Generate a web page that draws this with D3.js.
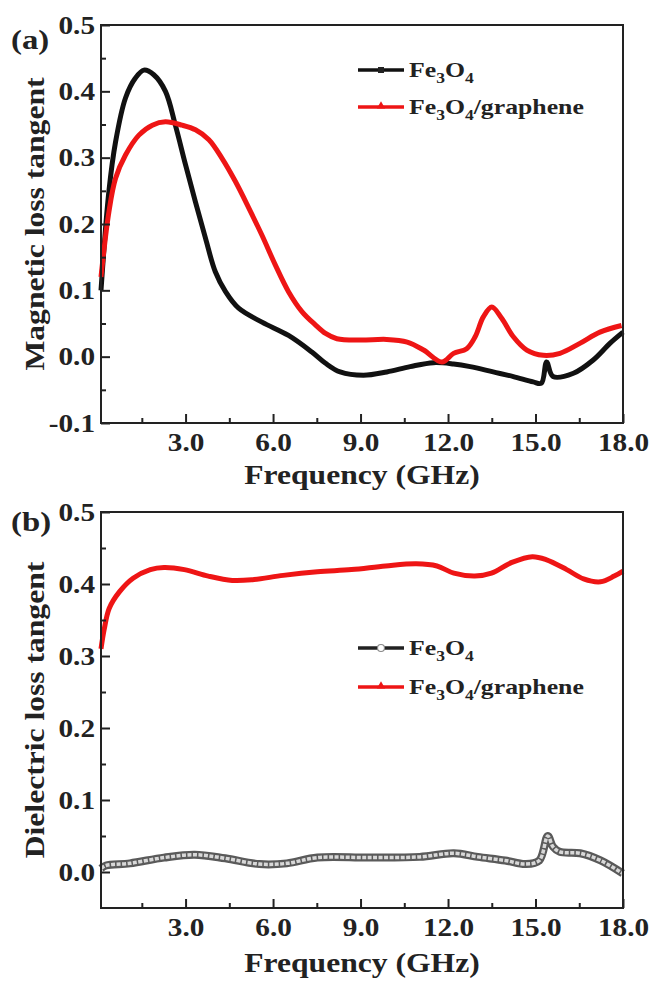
<!DOCTYPE html>
<html>
<head>
<meta charset="utf-8">
<script src="https://cdn.jsdelivr.net/npm/d3@7"></script>
<style>
  body { margin: 0; background: #fff; }
  svg text { font-family: "Liberation Serif", "Times New Roman", serif; font-weight: bold; fill: #222; }
</style>
</head>
<body>
<svg id="chart" width="653" height="984"></svg>
<script>
// ---- data ----
// (a) magnetic loss tangent
const magFeFreq = [0.1, 0.37, 0.6, 0.94, 1.28, 1.57, 1.91, 2.31, 2.65, 3.0, 3.34, 3.68, 4.02, 4.37, 4.82, 5.62, 6.53, 7.33, 7.8, 8.3, 9.1, 9.9, 10.7, 11.5, 12.19, 12.76, 13.55, 14.24, 14.92, 15.2, 15.38, 15.6, 16.3, 16.98, 17.55, 18.0];
const magFe = [0.10, 0.249, 0.324, 0.39, 0.42, 0.432, 0.425, 0.40, 0.349, 0.289, 0.233, 0.179, 0.128, 0.098, 0.073, 0.052, 0.032, 0.007, -0.01, -0.023, -0.028, -0.023, -0.015, -0.009, -0.011, -0.015, -0.023, -0.03, -0.038, -0.04, -0.008, -0.03, -0.025, -0.005, 0.02, 0.037];

const magGFreq = [0.1, 0.37, 0.6, 0.94, 1.4, 1.86, 2.31, 2.88, 3.34, 3.8, 4.25, 4.71, 5.17, 5.62, 6.08, 6.53, 6.99, 7.45, 7.8, 8.19, 8.99, 9.9, 10.6, 11.16, 11.79, 12.19, 12.64, 12.93, 13.21, 13.5, 13.84, 14.24, 14.7, 15.27, 15.84, 16.52, 17.21, 17.95];
const magG = [0.12, 0.218, 0.269, 0.304, 0.334, 0.349, 0.354, 0.349, 0.342, 0.327, 0.299, 0.264, 0.224, 0.183, 0.138, 0.098, 0.068, 0.048, 0.035, 0.027, 0.025, 0.026, 0.022, 0.01, -0.008, 0.005, 0.012, 0.03, 0.06, 0.075, 0.058, 0.03, 0.01, 0.002, 0.005, 0.02, 0.037, 0.047];

// (b) dielectric loss tangent
const dieFeFreq = [0.1, 0.27, 1.09, 2.26, 3.31, 4.36, 5.53, 6.47, 7.52, 9.28, 11.03, 12.2, 13.02, 13.96, 14.66, 15.13, 15.42, 15.6, 15.83, 16.53, 17.23, 17.99];
const dieFe = [0.005, 0.009, 0.012, 0.020, 0.024, 0.019, 0.011, 0.012, 0.020, 0.020, 0.021, 0.026, 0.021, 0.016, 0.011, 0.016, 0.050, 0.035, 0.028, 0.026, 0.016, -0.002];

const dieGFreq = [0.1, 0.21, 0.38, 0.73, 1.2, 1.79, 2.26, 2.96, 3.78, 4.6, 5.3, 6.35, 7.52, 8.69, 9.86, 10.91, 11.62, 12.2, 12.92, 13.49, 14.19, 14.89, 15.36, 16.07, 16.65, 17.23, 17.7, 18.0];
const dieG = [0.31, 0.337, 0.366, 0.389, 0.408, 0.420, 0.423, 0.420, 0.411, 0.405, 0.406, 0.412, 0.417, 0.420, 0.425, 0.428, 0.425, 0.415, 0.411, 0.415, 0.430, 0.438, 0.434, 0.420, 0.407, 0.403, 0.411, 0.418];

// ticks
const xMajor = [3, 6, 9, 12, 15, 18];
const xMinor = [1.5, 4.5, 7.5, 10.5, 13.5, 16.5];
const yMajorA = [-0.1, 0, 0.1, 0.2, 0.3, 0.4, 0.5];
const yMinorA = [-0.05, 0.05, 0.15, 0.25, 0.35, 0.45];
const yMajorB = [0, 0.1, 0.2, 0.3, 0.4, 0.5];
const yMinorB = [0.05, 0.15, 0.25, 0.35, 0.45];

const RED = "#ee1515";
const STRETCH = 1.17; // glyphs in the reference are wider than Liberation Serif

const svg = d3.select("#chart");
// plain hyphen for negatives, like the reference
const fmt = d => d3.format(".1f")(d).replace("\u2212", "-");

// make text wider like the reference
function widen(sel, k) {
  sel.each(function () {
    const w = this.getComputedTextLength();
    d3.select(this).attr("textLength", w * k).attr("lengthAdjust", "spacingAndGlyphs");
  });
}

function zip(xs, ys) { return xs.map((x, i) => ({ x, y: ys[i] })); }

function panel(cfg) {
  const { top, bottom, yDomain, yMajor, yMinor } = cfg;
  const left = 101, right = 623;
  const x = d3.scaleLinear().domain([0.1, 18]).range([left, right]);
  const y = d3.scaleLinear().domain(yDomain).range([bottom, top]);

  const g = svg.append("g");

  // lines first so axes sit on top
  const line = d3.line().x(d => x(d.x)).y(d => y(d.y)).curve(d3.curveCatmullRom.alpha(0.5));
  cfg.series.forEach(s => {
    const data = zip(s.fx, s.fy);
    if (s.hollow) {
      g.append("path").datum(data).attr("d", line)
        .attr("fill", "none").attr("stroke", "#5a5a5a").attr("stroke-width", 8);
      g.append("path").datum(data).attr("d", line)
        .attr("fill", "none").attr("stroke", "#d8d8d8").attr("stroke-width", 3.5)
        .attr("stroke-dasharray", "4,1.5");
    } else {
      g.append("path").datum(data).attr("d", line)
        .attr("fill", "none").attr("stroke", s.color).attr("stroke-width", 5)
        .attr("stroke-linejoin", "round");
    }
  });

  // frame
  g.append("rect").attr("x", left).attr("y", top)
    .attr("width", right - left).attr("height", bottom - top)
    .attr("fill", "none").attr("stroke", "#222").attr("stroke-width", 2);

  // x axis: inward ticks
  const xa = g.append("g").attr("transform", `translate(0,${bottom})`)
    .call(d3.axisBottom(x).tickValues(xMajor).tickSize(-9).tickPadding(10).tickFormat(fmt));
  g.append("g").attr("transform", `translate(0,${bottom})`)
    .call(d3.axisBottom(x).tickValues(xMinor).tickSize(-5).tickFormat(""));
  const ya = g.append("g").attr("transform", `translate(${left},0)`)
    .call(d3.axisLeft(y).tickValues(yMajor).tickSize(-9).tickPadding(6).tickFormat(fmt));
  g.append("g").attr("transform", `translate(${left},0)`)
    .call(d3.axisLeft(y).tickValues(yMinor).tickSize(-5).tickFormat(""));

  g.selectAll(".domain").remove();
  g.selectAll(".tick line").attr("stroke", "#222").attr("stroke-width", 2);
  xa.selectAll("text").style("font-size", "25px").attr("font-family", null);
  ya.selectAll("text").style("font-size", "25px").attr("font-family", null);
  widen(xa.selectAll("text"), STRETCH);
  widen(ya.selectAll("text"), STRETCH);

  // axis titles
  const xt = g.append("text").attr("x", (left + right) / 2).attr("y", cfg.xTitleY)
    .attr("text-anchor", "middle").style("font-size", "27px").text("Frequency (GHz)");
  widen(xt, STRETCH);
  const yt = g.append("text")
    .attr("transform", `translate(44,${(top + bottom) / 2}) rotate(-90)`)
    .attr("text-anchor", "middle").style("font-size", "27px").text(cfg.yTitle);
  widen(yt, STRETCH);

  // panel letter
  const pl = g.append("text").attr("x", 11).attr("y", cfg.letterY)
    .style("font-size", "28px").text(cfg.letter);
  widen(pl, STRETCH);

  // legend
  cfg.series.forEach((s, i) => {
    const ly = cfg.legendY[i];
    g.append("line").attr("x1", 358).attr("x2", 404).attr("y1", ly).attr("y2", ly)
      .attr("stroke", s.hollow ? "#222" : s.color).attr("stroke-width", 3.5);
    if (s.marker === "square") {
      g.append("rect").attr("x", 378).attr("y", ly - 3).attr("width", 6).attr("height", 6).attr("fill", "#222");
    } else if (s.marker === "triangle") {
      g.append("path").attr("d", d3.symbol(d3.symbolTriangle, 30)()).attr("transform", `translate(381,${ly - 1})`).attr("fill", s.color);
    } else if (s.marker === "circle") {
      g.append("circle").attr("cx", 381).attr("cy", ly).attr("r", 3.5).attr("fill", "#fff").attr("stroke", "#888").attr("stroke-width", 1.2);
    }
    const t = g.append("text").attr("x", 409).attr("y", ly + 7).style("font-size", "22px");
    t.append("tspan").text("Fe");
    t.append("tspan").attr("dy", 6).style("font-size", "15px").text("3");
    t.append("tspan").attr("dy", -6).text("O");
    t.append("tspan").attr("dy", 6).style("font-size", "15px").text("4");
    if (s.label === "graphene") t.append("tspan").attr("dy", -6).text("/graphene");
    widen(t, STRETCH);
  });
}

panel({
  top: 25, bottom: 423,
  yDomain: [-0.1, 0.5], yMajor: yMajorA, yMinor: yMinorA,
  yTitle: "Magnetic loss tangent", xTitleY: 484, letter: "(a)", letterY: 49,
  legendY: [70, 107],
  series: [
    { fx: magFeFreq, fy: magFe, color: "#111", marker: "square", label: "fe" },
    { fx: magGFreq, fy: magG, color: RED, marker: "triangle", label: "graphene" }
  ]
});

panel({
  top: 512, bottom: 908,
  yDomain: [-0.05, 0.5], yMajor: yMajorB, yMinor: yMinorB,
  yTitle: "Dielectric loss tangent", xTitleY: 972, letter: "(b)", letterY: 531,
  legendY: [648, 687],
  series: [
    { fx: dieFeFreq, fy: dieFe, hollow: true, marker: "circle", label: "fe" },
    { fx: dieGFreq, fy: dieG, color: RED, marker: "triangle", label: "graphene" }
  ]
});
</script>
</body>
</html>
